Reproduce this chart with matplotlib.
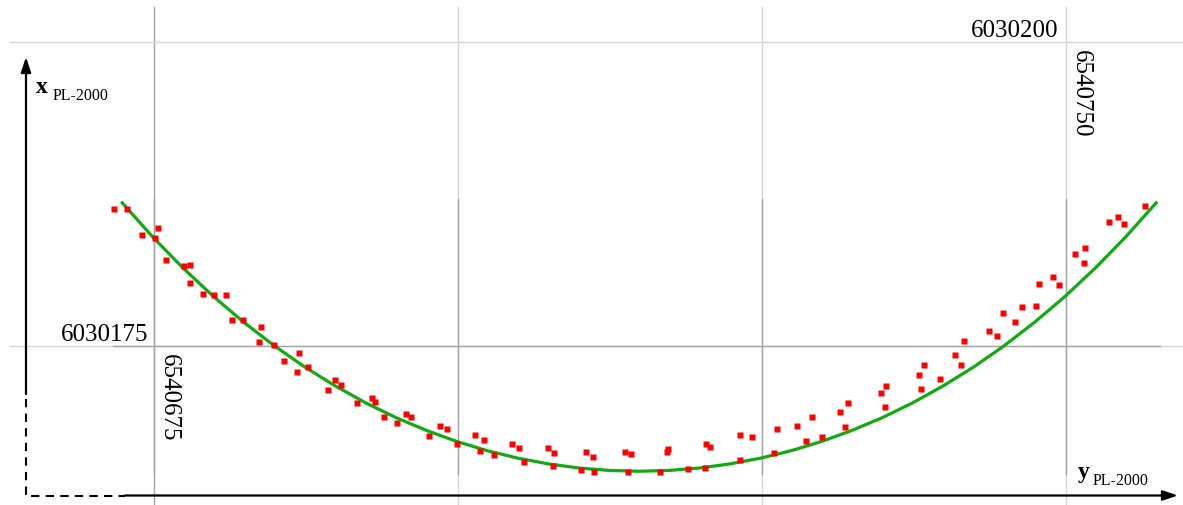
import matplotlib
matplotlib.use("Agg")
import matplotlib.pyplot as plt

# ---------------- data (PL-2000 coordinates, metres) ----------------
# measured points: easting (y PL-2000) and northing (x PL-2000)
pts_y = [6540671.7, 6540672.8, 6540674.0, 6540675.3, 6540675.1, 6540676.0, 6540677.5, 6540678.0,
         6540678.0, 6540679.0, 6540679.9, 6540680.9, 6540681.4, 6540682.3, 6540683.8, 6540683.6,
         6540684.9, 6540685.7, 6540686.9, 6540686.8, 6540687.7, 6540689.3, 6540689.9, 6540690.4,
         6540691.7, 6540692.9, 6540693.2, 6540693.9, 6540695.0, 6540695.7, 6540696.1, 6540697.6,
         6540698.5, 6540699.1, 6540699.9, 6540701.4, 6540702.1, 6540701.8, 6540703.0, 6540704.4,
         6540705.0, 6540705.4, 6540707.4, 6540707.9, 6540707.8, 6540710.1, 6540710.5, 6540711.1,
         6540711.2, 6540713.7, 6540714.2, 6540714.0, 6540716.6, 6540717.2, 6540717.3, 6540718.9,
         6540720.3, 6540720.4, 6540720.7, 6540723.2, 6540723.2, 6540724.2, 6540726.0, 6540726.2,
         6540727.9, 6540728.6, 6540729.1, 6540729.9, 6540731.4, 6540731.8, 6540732.1, 6540734.8,
         6540735.2, 6540735.1, 6540737.9, 6540738.3, 6540738.1, 6540739.6, 6540740.9, 6540741.4,
         6540741.6, 6540743.7, 6540744.3, 6540744.8, 6540745.8, 6540746.4, 6540747.5, 6540747.8,
         6540748.9, 6540749.4, 6540750.7, 6540751.6, 6540751.5, 6540753.5, 6540754.3, 6540754.8,
         6540756.5]
pts_x = [6030186.3, 6030186.3, 6030184.1, 6030184.7, 6030183.9, 6030182.1, 6030181.6, 6030181.7,
         6030180.2, 6030179.3, 6030179.2, 6030179.2, 6030177.1, 6030177.1, 6030176.6, 6030175.3,
         6030175.1, 6030173.8, 6030174.4, 6030172.9, 6030173.3, 6030171.4, 6030172.2, 6030171.8,
         6030170.3, 6030170.7, 6030170.4, 6030169.2, 6030168.7, 6030169.4, 6030169.2, 6030167.6,
         6030168.4, 6030168.2, 6030166.9, 6030167.7, 6030167.3, 6030166.4, 6030166.0, 6030166.9,
         6030166.6, 6030165.5, 6030166.6, 6030166.2, 6030165.1, 6030164.8, 6030166.3, 6030165.9,
         6030164.6, 6030166.3, 6030166.1, 6030164.6, 6030164.6, 6030166.3, 6030166.5, 6030164.9,
         6030165.0, 6030166.9, 6030166.7, 6030165.6, 6030167.7, 6030167.5, 6030166.2, 6030168.2,
         6030168.4, 6030167.2, 6030169.2, 6030167.5, 6030169.6, 6030168.3, 6030170.3, 6030171.1,
         6030171.7, 6030170.0, 6030172.6, 6030173.4, 6030171.5, 6030172.3, 6030174.3, 6030173.4,
         6030175.4, 6030176.2, 6030175.8, 6030177.7, 6030177.0, 6030178.2, 6030178.3, 6030180.1,
         6030180.7, 6030180.0, 6030182.6, 6030183.1, 6030181.8, 6030185.2, 6030185.6, 6030185.0,
         6030186.5]

# fitted curve (sampled)
curve_y = [6540672.3, 6540674.9, 6540677.4, 6540679.9, 6540682.4, 6540684.9, 6540687.4, 6540689.9,
           6540692.4, 6540694.9, 6540697.4, 6540699.9, 6540702.4, 6540704.9, 6540707.4, 6540709.9,
           6540712.4, 6540714.9, 6540717.4, 6540719.9, 6540722.4, 6540724.9, 6540727.4, 6540729.9,
           6540732.4, 6540734.9, 6540737.4, 6540739.9, 6540742.4, 6540744.9, 6540747.4, 6540749.9,
           6540752.4, 6540754.9, 6540757.5]
curve_x = [6030186.87, 6030183.96, 6030181.40, 6030179.06, 6030176.94, 6030175.01, 6030173.27, 6030171.72,
           6030170.33, 6030169.11, 6030168.06, 6030167.15, 6030166.39, 6030165.78, 6030165.31, 6030164.97,
           6030164.77, 6030164.70, 6030164.77, 6030164.97, 6030165.31, 6030165.78, 6030166.39, 6030167.15,
           6030168.06, 6030169.11, 6030170.33, 6030171.72, 6030173.27, 6030175.01, 6030176.94, 6030179.06,
           6030181.40, 6030183.96, 6030186.87]

# grid values / labels
grid_y = [6540675, 6540700, 6540725, 6540750]
grid_x = [6030175, 6030200]

# ---------------- layout ----------------
W, H = 1183, 506
PX = 12.16  # pixels per metre
fig = plt.figure(figsize=(W / 100, H / 100), dpi=100)
ax = fig.add_axes([0, 0, 1, 1])
ax.set_axis_off()
ax.set_xlim(grid_y[0] - 154 / PX, grid_y[0] + (W - 154) / PX)
ax.set_ylim(grid_x[0] - (H - 347) / PX, grid_x[0] + 347 / PX)

LIGHT = "#d6d6d6"
DARK = "#a4a4a4"
# vertical grid lines
for i, g in enumerate(grid_y):
    ax.axvline(g, ymin=0, ymax=1 - 8 / H, color=DARK if i == 0 else LIGHT, lw=1.0, zorder=1)
    ax.axvline(g, ymin=(H - 475) / H, ymax=(H - 200) / H, color=DARK, lw=1.0, zorder=1)
# horizontal grid lines
for g in grid_x:
    ax.axhline(g, xmin=10 / W, xmax=1, color=LIGHT, lw=1.0, zorder=1)
ax.axhline(grid_x[0], xmin=113 / W, xmax=1160 / W, color=DARK, lw=1.0, zorder=1)

# curve and points
ax.plot(curve_y, curve_x, color="#12aa12", lw=2.3, zorder=3, solid_capstyle="butt")
ax.plot(pts_y, pts_x, ls="none", marker="s", ms=4.3, mfc="#ff0000", mec="none", zorder=4)

# axes arrows (figure pixels, origin bottom-left)
def fp(x, y):
    return (x, H - y)

arrow = dict(arrowstyle="-|>,head_length=0.9,head_width=0.3", color="black", lw=1.6,
             shrinkA=0, shrinkB=0)
ax.annotate("", xy=fp(26, 58), xytext=fp(26, 395), xycoords="figure pixels",
            textcoords="figure pixels", arrowprops=arrow, annotation_clip=False)
ax.annotate("", xy=fp(1178, 496.5), xytext=fp(125, 496.5), xycoords="figure pixels",
            textcoords="figure pixels", arrowprops=arrow, annotation_clip=False)
ax.plot([26 / W, 26 / W, 125 / W], [1 - 400 / H, 1 - 496.5 / H, 1 - 496.5 / H],
        transform=fig.transFigure, color="black", lw=1.5, ls=(0, (4, 3)), clip_on=False)

serif = ["Liberation Serif", "DejaVu Serif"]
# axis names
fig.text(36 / W, 1 - 93 / H, "x", fontsize=17, fontweight="bold", family=serif, va="baseline")
fig.text(53 / W, 1 - 100.5 / H, "PL-2000", fontsize=11.5, family=serif, va="baseline")
fig.text(1078 / W, 1 - 478 / H, "y", fontsize=17, fontweight="bold", family=serif, va="baseline")
fig.text(1093 / W, 1 - 485 / H, "PL-2000", fontsize=11.5, family=serif, va="baseline")

# coordinate labels
ax.annotate(str(grid_x[1]), xy=(grid_y[3], grid_x[1]), xytext=(-8, 6), textcoords="offset pixels",
            ha="right", va="baseline", fontsize=18, family=serif)
ax.annotate(str(grid_x[0]), xy=(grid_y[0], grid_x[0]), xytext=(-6, 6), textcoords="offset pixels",
            ha="right", va="baseline", fontsize=18, family=serif)
ax.annotate(str(grid_y[0]), xy=(grid_y[0], grid_x[0]), xytext=(4, -7), textcoords="offset pixels",
            ha="left", va="top", rotation=-90, fontsize=18, family=serif)
ax.annotate(str(grid_y[3]), xy=(grid_y[3], grid_x[1]), xytext=(4, -7), textcoords="offset pixels",
            ha="left", va="top", rotation=-90, fontsize=18, family=serif)

fig.savefig("out.png", dpi=100)
